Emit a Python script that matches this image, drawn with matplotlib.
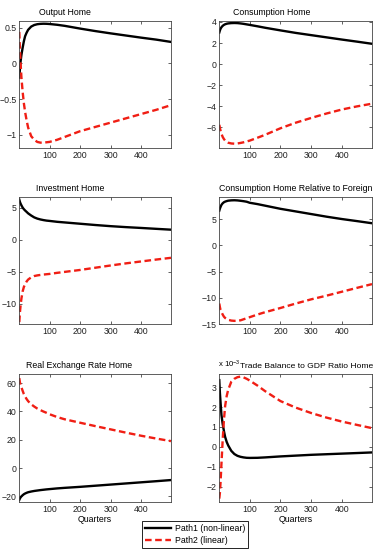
import numpy as np
import matplotlib
matplotlib.use("Agg")
import matplotlib.pyplot as plt
from matplotlib.lines import Line2D

plt.rcParams["font.family"] = ["Liberation Sans", "DejaVu Sans"]
plt.rcParams["font.size"] = 6.3
plt.rcParams["mathtext.fontset"] = "custom"
plt.rcParams["mathtext.rm"] = "Liberation Sans"
plt.rcParams["mathtext.it"] = "Liberation Sans"

quarters = [1, 3, 5, 8, 12, 16, 20, 25, 30, 40, 50, 60, 70, 80, 90, 100,
            125, 150, 200, 250, 300, 350, 400, 450, 498]

# Output Home
output_p1 = [-0.2, -0.08, 0.02, 0.12, 0.22, 0.31, 0.38, 0.43, 0.47, 0.515, 0.537, 0.548,
             0.553, 0.555, 0.554, 0.551, 0.54, 0.525, 0.487, 0.452, 0.42, 0.39, 0.36, 0.332, 0.3]
output_p2 = [0.44, 0.2, 0.02, -0.2, -0.4, -0.56, -0.68, -0.8, -0.9, -1.02, -1.07, -1.1,
             -1.11, -1.11, -1.105, -1.1, -1.07, -1.03, -0.95, -0.89, -0.83, -0.77, -0.71, -0.65, -0.585]

# Consumption Home
cons_p1 = [3.0, 3.2, 3.35, 3.5, 3.63, 3.72, 3.78, 3.83, 3.86, 3.89, 3.9, 3.89, 3.86, 3.82,
           3.77, 3.72, 3.59, 3.45, 3.2, 2.96, 2.75, 2.54, 2.33, 2.13, 1.93]
cons_p2 = [-5.75, -6.05, -6.3, -6.6, -6.9, -7.1, -7.25, -7.37, -7.45, -7.52, -7.54, -7.52,
           -7.47, -7.41, -7.33, -7.25, -6.98, -6.7, -6.08, -5.55, -5.1, -4.68, -4.3, -4.0, -3.75]

# Investment Home
inv_p1 = [6.25, 5.9, 5.65, 5.35, 5.0, 4.75, 4.55, 4.33, 4.1, 3.76, 3.47, 3.28, 3.15, 3.05,
          2.97, 2.92, 2.78, 2.68, 2.48, 2.28, 2.1, 1.95, 1.82, 1.68, 1.55]
inv_p2 = [-12.9, -11.4, -10.4, -9.2, -8.1, -7.4, -7.0, -6.55, -6.25, -5.9, -5.7, -5.6,
          -5.53, -5.47, -5.42, -5.37, -5.2, -5.05, -4.75, -4.4, -4.05, -3.72, -3.42, -3.12, -2.85]

# Consumption Home Relative to Foreign
crel_p1 = [6.6, 7.0, 7.3, 7.7, 8.0, 8.2, 8.32, 8.42, 8.5, 8.56, 8.58, 8.55, 8.48, 8.4,
           8.3, 8.1, 7.85, 7.55, 6.95, 6.45, 5.95, 5.45, 5.0, 4.6, 4.2]
crel_p2 = [-11.1, -11.8, -12.3, -12.7, -13.2, -13.6, -13.85, -14.05, -14.2, -14.35, -14.4,
           -14.38, -14.3, -14.1, -13.9, -13.7, -13.2, -12.75, -11.95, -11.1, -10.3, -9.6,
           -8.85, -8.1, -7.4]

# Real Exchange Rate Home
rer_p1 = [-22.5, -21.5, -20.8, -20.0, -19.2, -18.5, -18.0, -17.5, -17.1, -16.6, -16.2,
          -15.9, -15.6, -15.35, -15.1, -14.9, -14.4, -14.0, -13.3, -12.5, -11.7, -10.9,
          -10.1, -9.3, -8.5]
rer_p2 = [63.5, 60.5, 58.5, 57.0, 54.5, 52.2, 50.5, 48.7, 47.2, 45.0, 43.4, 42.0, 40.9,
          39.9, 39.0, 38.0, 36.0, 34.4, 32.0, 29.6, 27.3, 25.0, 22.8, 20.8, 19.0]

# Trade Balance to GDP Ratio Home (x 10^-3)
tb_p1 = [3.35, 2.7, 2.25, 1.6, 1.15, 0.8, 0.5, 0.25, 0.07, -0.2, -0.36, -0.45, -0.5, -0.53,
         -0.55, -0.555, -0.55, -0.53, -0.48, -0.44, -0.4, -0.37, -0.34, -0.31, -0.28]
tb_p2 = [-2.6, -2.3, -1.8, -0.85, 0.35, 1.34, 2.05, 2.55, 2.87, 3.27, 3.42, 3.5, 3.53, 3.49,
         3.42, 3.33, 3.08, 2.8, 2.3, 1.97, 1.7, 1.47, 1.27, 1.1, 0.94]

titles = ["Output Home", "Consumption Home", "Investment Home",
          "Consumption Home Relative to Foreign", "Real Exchange Rate Home",
          "Trade Balance to GDP Ratio Home"]
series = [(output_p1, output_p2), (cons_p1, cons_p2), (inv_p1, inv_p2),
          (crel_p1, crel_p2), (rer_p1, rer_p2), (tb_p1, tb_p2)]
ylims = [(-1.185, 0.593), (-7.95, 4.09), (-13.2, 6.66), (-15.0, 9.2), (-24.0, 66.4), (-2.77, 3.66)]
yticks = [[-1, -0.5, 0, 0.5], [-6, -4, -2, 0, 2, 4], [-10, -5, 0, 5], [-15, -10, -5, 0, 5],
          [-20, 0, 20, 40, 60], [-2, -1, 0, 1, 2, 3]]
title_x = [0.30, 0.34, 0.334, 0.5, 0.396, 1.005]
title_ha = ["center", "center", "center", "center", "center", "right"]

W, H = 381, 550
fig = plt.figure(figsize=(W / 100, H / 100), dpi=100)

lefts = [19.3, 219.3]
widths = [151.7, 152.7]
tops = [21, 197, 374]
heights = [127, 127, 128]

red = "#f01e14"
for i in range(6):
    r, c = divmod(i, 2)
    ax = fig.add_axes([lefts[c] / W, (H - tops[r] - heights[r]) / H, widths[c] / W, heights[r] / H])
    p1, p2 = series[i]
    ax.plot(quarters, p1, color="black", lw=1.7, solid_joinstyle="round")
    ax.plot(quarters, p2, color=red, lw=1.7, ls="--", dashes=(2.8, 1.5))
    ax.set_xlim(1, 498)
    ax.set_ylim(*ylims[i])
    ax.set_xticks([100, 200, 300, 400])
    ax.set_yticks(yticks[i])
    ax.set_yticklabels([("%g" % v).replace("-", "\u2212") for v in yticks[i]])
    ax.tick_params(direction="in", top=True, right=True, length=2.5, width=0.5,
                   pad=2, labelsize=6.3, colors="#222222")
    for s in ax.spines.values():
        s.set_linewidth(0.6)
        s.set_color("#444444")
    fs = 6.1 if i == 5 else 6.3
    ax.text(title_x[i], 1.035, titles[i], transform=ax.transAxes, ha=title_ha[i],
            va="bottom", fontsize=fs)
    if r == 2:
        ax.set_xlabel("Quarters", fontsize=6.3, labelpad=1)
    if i == 5:
        ax.text(-0.01, 1.035, "x 10$^{\u22123}$", transform=ax.transAxes, ha="left",
                va="bottom", fontsize=5.6)

handles = [Line2D([], [], color="black", lw=1.7),
           Line2D([], [], color=red, lw=1.7, ls="--", dashes=(2.8, 1.5))]
lg = fig.legend(handles, ["Path1 (non-linear)", "Path2 (linear)"], loc="center",
                bbox_to_anchor=(195 / W, 1 - 534.5 / H), fontsize=6.3, frameon=True,
                fancybox=False, edgecolor="black", framealpha=1, handlelength=3.0,
                handletextpad=0.4, borderpad=0.35, labelspacing=0.35)
lg.get_frame().set_linewidth(0.6)

fig.savefig("out.png", dpi=100)
